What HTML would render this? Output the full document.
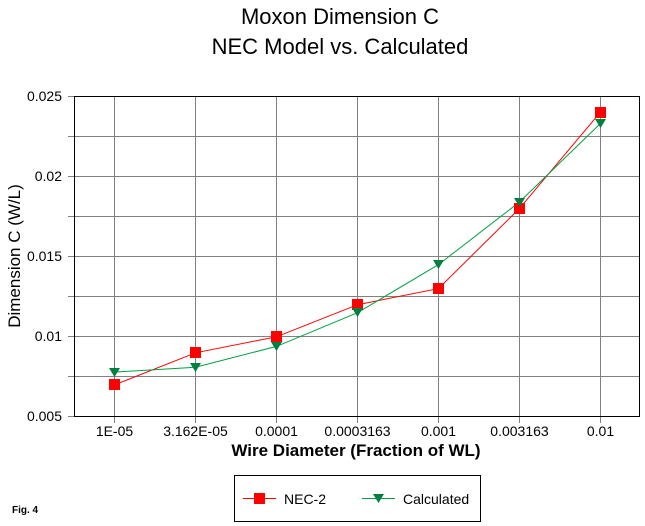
<!DOCTYPE html>
<html><head><meta charset="utf-8"><style>body{margin:0;background:#fff}svg{display:block}text{font-family:"Liberation Sans",Arial,sans-serif}</style></head><body>
<svg width="645" height="526" viewBox="0 0 645 526">
<rect width="645" height="526" fill="#fff"/>
<text x="340" y="24" font-size="22" text-anchor="middle">Moxon Dimension C</text>
<text x="340" y="54" font-size="22" text-anchor="middle">NEC Model vs. Calculated</text>
<g stroke="#808080" stroke-width="1">
<line x1="68" y1="136.5" x2="640" y2="136.5"/><line x1="68" y1="176.5" x2="640" y2="176.5"/>
<line x1="68" y1="216.5" x2="640" y2="216.5"/><line x1="68" y1="256.5" x2="640" y2="256.5"/>
<line x1="68" y1="296.5" x2="640" y2="296.5"/><line x1="68" y1="336.5" x2="640" y2="336.5"/>
<line x1="68" y1="376.5" x2="640" y2="376.5"/>
<line x1="68" y1="96.5" x2="74" y2="96.5"/><line x1="68" y1="416.5" x2="74" y2="416.5"/>
<line x1="114.5" y1="96" x2="114.5" y2="423"/><line x1="195.5" y1="96" x2="195.5" y2="423"/>
<line x1="276.5" y1="96" x2="276.5" y2="423"/><line x1="357.5" y1="96" x2="357.5" y2="423"/>
<line x1="438.5" y1="96" x2="438.5" y2="423"/><line x1="519.5" y1="96" x2="519.5" y2="423"/>
<line x1="600.5" y1="96" x2="600.5" y2="423"/>
</g>
<rect x="74.5" y="96.5" width="565" height="320" fill="none" stroke="#000"/>
<g font-size="14" text-anchor="end">
<text x="62" y="101">0.025</text><text x="62" y="181">0.02</text><text x="62" y="261">0.015</text><text x="62" y="341">0.01</text><text x="62" y="421">0.005</text>
</g>
<g font-size="14" text-anchor="middle">
<text x="114.5" y="436">1E-05</text><text x="195.5" y="436">3.162E-05</text><text x="276.5" y="436">0.0001</text><text x="357.5" y="436">0.0003163</text><text x="438.5" y="436">0.001</text><text x="519.5" y="436">0.003163</text><text x="600.5" y="436">0.01</text>
</g>
<text x="356" y="456" font-size="17" font-weight="bold" text-anchor="middle">Wire Diameter (Fraction of WL)</text>
<text transform="translate(20,256) rotate(-90)" font-size="17" text-anchor="middle">Dimension C (W/L)</text>
<polyline fill="none" stroke="#ff0000" points="114.5,384.9 195.5,352.8 276.5,336.8 357.5,304.7 438.5,288.6 519.5,208.4 600.5,112.1"/>
<polyline fill="none" stroke="#00a040" points="114.5,372.1 195.5,367.2 276.5,346.4 357.5,312.7 438.5,264.6 519.5,202.0 600.5,123.4"/>
<g fill="#ff0000">
<rect x="109" y="379" width="11" height="11"/><rect x="190" y="347" width="11" height="11"/><rect x="271" y="331" width="11" height="11"/><rect x="352" y="299" width="11" height="11"/><rect x="433" y="283" width="11" height="11"/><rect x="514" y="203" width="11" height="11"/><rect x="595" y="107" width="11" height="11"/>
</g>
<g fill="#008040">
<polygon points="109,368 120,368 114.5,377"/><polygon points="190,363 201,363 195.5,372"/><polygon points="271,342 282,342 276.5,351"/><polygon points="352,308 363,308 357.5,317"/><polygon points="433,260 444,260 438.5,269"/><polygon points="514,198 525,198 519.5,207"/><polygon points="595,119 606,119 600.5,128"/>
</g>
<rect x="234.5" y="475.5" width="246" height="46" fill="none" stroke="#000"/>
<line x1="243" y1="498.5" x2="276" y2="498.5" stroke="#ff0000"/>
<rect x="254" y="493" width="11" height="11" fill="#ff0000"/>
<text x="284" y="504" font-size="14">NEC-2</text>
<line x1="362" y1="498.5" x2="395" y2="498.5" stroke="#00a040"/>
<polygon points="373,494 384,494 378.5,503" fill="#008040"/>
<text x="403" y="504" font-size="14">Calculated</text>
<text x="12" y="513" font-size="10" font-weight="bold">Fig. 4</text>
</svg>
</body></html>
